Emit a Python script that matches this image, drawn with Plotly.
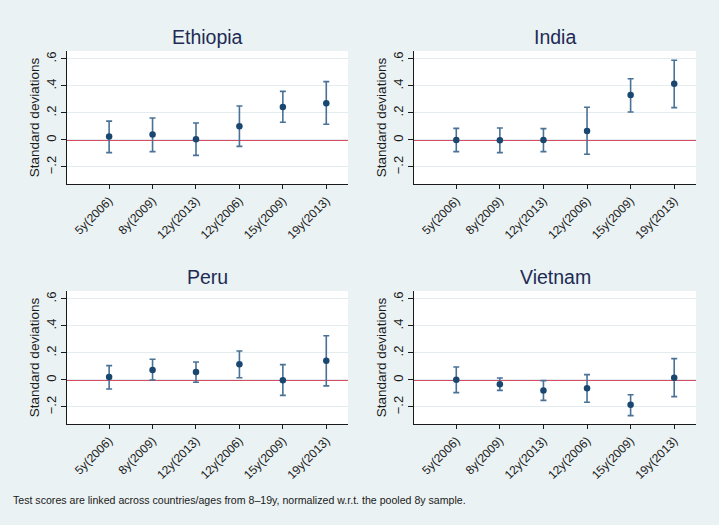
import plotly.graph_objects as go

categories = ["5y(2006)", "8y(2009)", "12y(2013)", "12y(2006)", "15y(2009)", "19y(2013)"]
countries = ["Ethiopia", "India", "Peru", "Vietnam"]

ethiopia_est = [0.025, 0.040, 0.005, 0.101, 0.244, 0.272]
ethiopia_hi = [0.140, 0.163, 0.126, 0.252, 0.360, 0.432]
ethiopia_lo = [-0.094, -0.086, -0.114, -0.047, 0.131, 0.116]

india_est = [0.000, -0.002, 0.000, 0.067, 0.333, 0.417]
india_hi = [0.086, 0.089, 0.084, 0.242, 0.454, 0.590]
india_lo = [-0.086, -0.094, -0.086, -0.106, 0.207, 0.240]

peru_est = [0.022, 0.074, 0.059, 0.116, -0.002, 0.143]
peru_hi = [0.106, 0.153, 0.133, 0.215, 0.114, 0.328]
peru_lo = [-0.067, 0.000, -0.017, 0.017, -0.114, -0.044]

vietnam_est = [0.002, -0.032, -0.077, -0.062, -0.183, 0.017]
vietnam_hi = [0.096, 0.015, -0.005, 0.040, -0.109, 0.158]
vietnam_lo = [-0.094, -0.077, -0.151, -0.165, -0.264, -0.123]

ytick_vals = [-0.2, 0, 0.2, 0.4, 0.6]
ytick_text = ["\u2212.2", "0", ".2", ".4", ".6"]

series = [
    (ethiopia_est, ethiopia_hi, ethiopia_lo),
    (india_est, india_hi, india_lo),
    (peru_est, peru_hi, peru_lo),
    (vietnam_est, vietnam_hi, vietnam_lo),
]

W, H = 719, 525
BG = "#EAF2F3"
FONT = "Liberation Sans, Arial, Helvetica, sans-serif"

# pixel boxes of plot areas: (x0, x1, y0_top, y1_bottom)
boxes = [(67, 348, 51, 184), (414, 696, 51, 184), (67, 348, 291, 424), (414, 696, 291, 424)]

fig = go.Figure()
for i, (name, (est, hi, lo), box) in enumerate(zip(countries, series, boxes)):
    k = "" if i == 0 else str(i + 1)
    x0, x1, yt, yb = box
    fig.add_trace(go.Scatter(
        x=categories, y=est, mode="markers",
        marker=dict(color="#1A476F", size=6.5),
        error_y=dict(type="data", symmetric=False,
                     array=[h - e for h, e in zip(hi, est)],
                     arrayminus=[e - l for e, l in zip(est, lo)],
                     color="#4A7196", thickness=1.6, width=3),
        xaxis="x" + k, yaxis="y" + k, showlegend=False,
    ))
    fig.update_layout(**{
        "xaxis" + k: dict(
            domain=[x0 / W, x1 / W], anchor="y" + k, type="category",
            categoryorder="array", categoryarray=categories,
            range=[-0.97, 5.5], showgrid=False, zeroline=False,
            showline=True, linecolor="#1a1a1a", linewidth=1,
            ticks="outside", ticklen=4, tickcolor="#1a1a1a",
            tickangle=-45, tickfont=dict(size=12, color="#1a1a1a", family=FONT),
            fixedrange=True, automargin=False,
        ),
        "yaxis" + k: dict(
            domain=[1 - yb / H, 1 - yt / H], anchor="x" + k,
            range=[-0.326, 0.659], tickvals=ytick_vals, ticktext=ytick_text,
            showgrid=True, gridcolor="#E3ECEE", gridwidth=1, zeroline=False,
            showline=True, linecolor="#1a1a1a", linewidth=1,
            ticks="outside", ticklen=5, tickcolor="#1a1a1a",
            tickangle=-90, tickfont=dict(size=13, color="#1a1a1a", family=FONT),
            title=dict(text="Standard deviations", standoff=1,
                       font=dict(size=13.5, color="#1a1a1a", family=FONT)),
            fixedrange=True, automargin=False,
        ),
    })
    fig.add_shape(type="line", xref="x" + k + " domain", yref="y" + k,
                  x0=0, x1=1, y0=0, y1=0, line=dict(color="#C8102E", width=1.6),
                  layer="below")
    fig.add_annotation(text=name, xref="paper", yref="paper",
                       x=(x0 + x1) / 2 / W, y=1 - (yt - 14) / H,
                       xanchor="center", yanchor="middle", showarrow=False,
                       font=dict(size=19.5, color="#1E2B55", family=FONT))

fig.add_annotation(
    text="Test scores are linked across countries/ages from 8\u201319y, normalized w.r.t. the pooled 8y sample.",
    xref="paper", yref="paper", x=11 / W, y=1 - 500 / H, xanchor="left", yanchor="middle",
    showarrow=False, font=dict(size=10.6, color="#1a1a1a", family=FONT))

fig.update_layout(width=W, height=H, margin=dict(l=0, r=0, t=0, b=0),
                  paper_bgcolor=BG, plot_bgcolor="white", hovermode=False)
fig.write_html("out.html", config={"displayModeBar": False},
               post_script="document.body.style.margin='0';document.body.style.overflow='hidden';")
